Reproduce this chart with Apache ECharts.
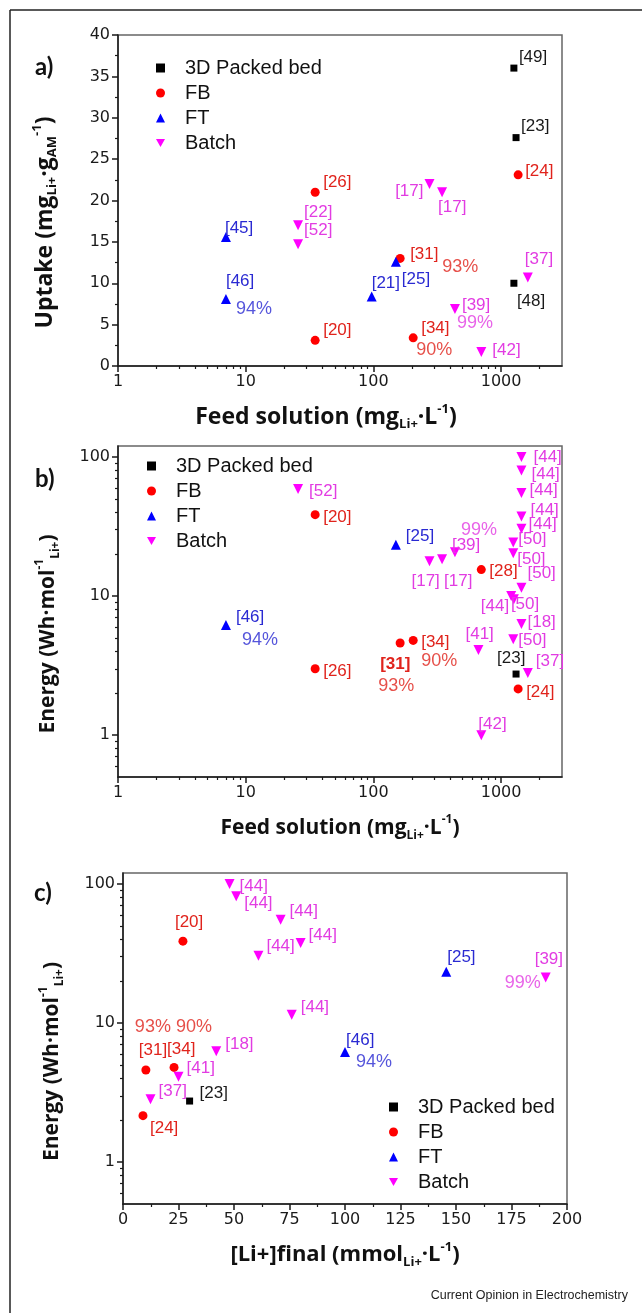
<!DOCTYPE html>
<html><head><meta charset="utf-8">
<script src="https://cdn.jsdelivr.net/npm/echarts@6/dist/echarts.min.js"></script>
<style>html,body{margin:0;padding:0;background:#fff}#c{width:642px;height:1313px}</style>
</head><body><div id="c"></div>
<script>
// ---------- DATA ----------
const seriesNames = ['3D Packed bed', 'FB', 'FT', 'Batch'];

// Panel a) Uptake vs feed solution
const aBedX = [1260, 1310, 1260];
const aBedY = [36, 27.6, 10];
const aBedRef = ['[49]', '[23]', '[48]'];
const aFbX = [35, 1360, 162, 35, 205];
const aFbY = [21, 23.1, 13, 3.1, 3.4];
const aFbRef = ['[26]', '[24]', '[31]', '[20]', '[34]'];
const aFbNote = ['', '', '93%', '', '90%'];
const aFtX = [7, 7, 97, 150];
const aFtY = [15.6, 8.1, 8.4, 12.6];
const aFtRef = ['[45]', '[46]', '[21]', '[25]'];
const aFtNote = ['', '94%', '', ''];
const aBatchX = [275, 345, 25.7, 25.7, 435, 700, 1620];
const aBatchY = [22, 21, 17, 14.7, 6.9, 1.7, 10.7];
const aBatchRef = ['[17]', '[17]', '[22]', '[52]', '[39]', '[42]', '[37]'];
const aBatchNote = ['', '', '', '', '99%', '', ''];

// Panel b) Energy vs feed solution
const bBedX = [1310];
const bBedY = [2.75];
const bBedRef = ['[23]'];
const bFbX = [35, 35, 162, 205, 700, 1360];
const bFbY = [38.5, 3.0, 4.6, 4.8, 15.5, 2.15];
const bFbRef = ['[20]', '[26]', '[31]', '[34]', '[28]', '[24]'];
const bFbNote = ['', '', '93%', '90%', '', ''];
const bFtX = [150, 7];
const bFtY = [23.4, 6.2];
const bFtRef = ['[25]', '[46]'];
const bFtNote = ['', '94%'];
const bBatchX = [25.7, 275, 345, 435, 665, 700, 1620, 1444, 1444, 1444, 1444, 1444, 1245, 1245, 1444, 1200, 1260, 1444, 1245];
const bBatchY = [59, 17.8, 18.4, 20.7, 4.1, 1.0, 2.8, 100, 80, 55, 37.4, 30.5, 24.3, 20.3, 11.5, 10, 9.5, 6.3, 4.9];
const bBatchRef = ['[52]', '[17]', '[17]', '[39]', '[41]', '[42]', '[37]', '[44]', '[44]', '[44]', '[44]', '[44]', '[50]', '[50]', '[50]', '[44]', '[50]', '[18]', '[50]'];
const bBatchNote = ['', '', '', '99%', '', '', '', '', '', '', '', '', '', '', '', '', '', '', ''];

// Panel c) Energy vs final Li+ concentration
const cBedX = [30];
const cBedY = [2.75];
const cBedRef = ['[23]'];
const cFbX = [27, 10.3, 23, 9];
const cFbY = [38.8, 4.6, 4.8, 2.16];
const cFbRef = ['[20]', '[31]', '[34]', '[24]'];
const cFbNote = ['', '93%', '90%', ''];
const cFtX = [145.6, 100];
const cFtY = [23.4, 6.2];
const cFtRef = ['[25]', '[46]'];
const cFtNote = ['', '94%'];
const cBatchX = [48, 51, 71, 80, 61, 76, 42, 25, 12.4, 190.4];
const cBatchY = [100, 81.5, 55.3, 37.6, 30.5, 11.5, 6.27, 4.12, 2.83, 21.3];
const cBatchRef = ['[44]', '[44]', '[44]', '[44]', '[44]', '[44]', '[18]', '[41]', '[37]', '[39]'];
const cBatchNote = ['', '', '', '', '', '', '', '', '', '99%'];

// Tick values
const logMajorX = [1, 10, 100, 1000];
const logMinorX = [2,3,4,5,6,7,8,9,20,30,40,50,60,70,80,90,200,300,400,500,600,700,800,900,2000];
const logMajorY = [1, 10, 100];
const logMinorY = [0.6,0.7,0.8,0.9,2,3,4,5,6,7,8,9,20,30,40,50,60,70,80,90];

// ---------- LABEL LAYOUT (pixel offsets from marker centre) ----------
const aBedLab = [[5,-11],[5,-11],[3,18]];
const aFbLab = [[8,-10],[7,-4],[10,-4],[8,-10],[8,-10]];
const aFbNoteLab = [null,null,[42,9],null,[3,12]];
const aFtLab = [[-1,-9],[0,-18],[0,-13],[6,18]];
const aFtNoteLab = [null,[10,10],null,null];
const aBatchLab = [[-6,7,'right'],[-4,15],[6,-13],[6,-14],[7,-4],[11,-2],[-3,-18]];
const aBatchNoteLab = [null,null,null,null,[2,14],null,null];

const bBedLab = [[-19,-16]];
const bFbLab = [[8,3],[8,3],[-20,21],[8,2],[8,2],[8,3]];
const bFbNoteLab = [null,null,[-22,43],[8,21],null,null];
const bFtLab = [[10,-8],[10,-8]];
const bFtNoteLab = [null,[16,15]];
const bBatchLab = [[11,2],[-18,20],[2,22],[-3,-7],[-13,-16],[-3,-11],[8,-12],[12,0],[10,4],[8,-3],[9,-6],[7,-4],[5,-3],[4,6],[6,-14],[-2,10,'right'],[-3,5],[6,-2],[5,1]];
const bBatchNoteLab = [null,null,null,[6,-22],null,null,null,null,null,null,null,null,null,null,null,null,null,null,null];

const cBedLab = [[10,-8]];
const cFbLab = [[-8,-19],[-7,-20],[-7,-18],[7,13]];
const cFbNoteLab = [null,[-11,-43],[2,-40],null];
const cFtLab = [[1,-14],[1,-12]];
const cFtNoteLab = [null,[11,10]];
const cBatchLab = [[10,2],[8,7],[9,-8],[8,-8],[8,-9],[9,-7],[9,-7],[8,-8],[8,-8],[-11,-18]];
const cBatchNoteLab = [null,null,null,null,null,null,null,null,null,[-5,6,'right']];

// ---------- STYLE ----------
const markerColor = {'3D Packed bed':'#000000', 'FB':'#ff0000', 'FT':'#0000ff', 'Batch':'#ff00ff'};
const textColor = {'3D Packed bed':'#1a1a1a', 'FB':'#e0231c', 'FT':'#2a2ad2', 'Batch':'#e23ce2'};
const markerSymbol = {'3D Packed bed':'rect', 'FB':'circle', 'FT':'triangle', 'Batch':'path://M0,0L10,0L5,9Z'};
const markerSize = {'3D Packed bed':7, 'FB':9, 'FT':10, 'Batch':10};
const LABEL_FONT = 'Liberation Sans';
const TICK_FONT = 'DejaVu Sans';
const TITLE_FONT = 'Open Sans';

function pointData(xs, ys, refs, labs, bold) {
  return xs.map((x, i) => {
    const l = labs[i];
    const d = {value: [x, ys[i]], label: {show: true, formatter: refs[i], offset: [l[0], l[1]], align: l[2] || 'left'}};
    if (bold && bold[i]) d.label.fontWeight = 'bold';
    return d;
  });
}
function mainSeries(name, xi, yi, xs, ys, refs, labs, bold) {
  return {
    type: 'scatter', name: name, xAxisIndex: xi, yAxisIndex: yi,
    symbol: markerSymbol[name], symbolSize: markerSize[name],
    itemStyle: {color: markerColor[name], opacity: 1},
    label: {show: true, position: 'inside', verticalAlign: 'middle', color: textColor[name], fontSize: 17, fontFamily: LABEL_FONT},
    emphasis: {disabled: true},
    data: pointData(xs, ys, refs, labs, bold), z: 3
  };
}
function noteSeries(name, xi, yi, xs, ys, notes, labs) {
  const data = [];
  xs.forEach((x, i) => {
    if (!notes[i]) return;
    const l = labs[i];
    data.push({value: [x, ys[i]], label: {show: true, formatter: notes[i], offset: [l[0], l[1]], align: l[2] || 'left'}});
  });
  return {
    type: 'scatter', xAxisIndex: xi, yAxisIndex: yi, symbol: 'circle', symbolSize: 1,
    itemStyle: {color: 'rgba(0,0,0,0)'}, silent: true,
    label: {show: true, position: 'inside', verticalAlign: 'middle', color: textColor[name], fontSize: 18, fontFamily: LABEL_FONT},
    emphasis: {disabled: true}, data: data, z: 4
  };
}

const axisLineStyle = {show: true, lineStyle: {color: '#1a1a1a', width: 1.5}};
const tickLabelStyle = {fontFamily: TICK_FONT, fontSize: 16, color: '#1a1a1a', margin: 8};
function richName(size) {
  const sub = Math.round(size * 0.58);
  return {
    m: {fontFamily: TITLE_FONT, fontWeight: 'bold', fontSize: size, color: '#111', lineHeight: 28},
    s: {fontFamily: TITLE_FONT, fontWeight: 'bold', fontSize: sub, color: '#111', lineHeight: 12, verticalAlign: 'bottom'},
    u: {fontFamily: TITLE_FONT, fontWeight: 'bold', fontSize: sub, color: '#111', lineHeight: 14, verticalAlign: 'top'}
  };
}
function fmtInt(v) { return String(Math.round(v)); }

function logMainX(grid, name, pad, size) {
  return {type: 'log', logBase: 10, gridIndex: grid, min: 1, max: 3000, position: 'bottom',
    axisLine: axisLineStyle, splitLine: {show: false},
    axisTick: {show: true, length: 6, inside: false, customValues: logMajorX, lineStyle: {color: '#1a1a1a', width: 1.5}},
    axisLabel: {show: true, customValues: logMajorX, formatter: fmtInt, ...tickLabelStyle},
    name: name, nameLocation: 'middle', nameGap: 37,
    nameTextStyle: {rich: richName(size), padding: pad}};
}
function logMinorX2(grid) {
  return {type: 'log', logBase: 10, gridIndex: grid, min: 1, max: 3000, position: 'bottom',
    axisLine: {show: false}, splitLine: {show: false},
    axisTick: {show: true, length: 3, customValues: logMinorX, lineStyle: {color: '#1a1a1a', width: 1.2}},
    axisLabel: {show: false}};
}
function logMainY(grid, name, gap, pad) {
  return {type: 'log', logBase: 10, gridIndex: grid, min: 0.5, max: 120, position: 'left',
    axisLine: axisLineStyle, splitLine: {show: false},
    axisTick: {show: true, length: 6, customValues: logMajorY, lineStyle: {color: '#1a1a1a', width: 1.5}},
    axisLabel: {show: true, customValues: logMajorY, formatter: fmtInt, ...tickLabelStyle},
    name: name, nameLocation: 'middle', nameGap: gap, nameRotate: 90,
    nameTextStyle: {rich: richName(21), padding: pad}};
}
function logMinorY2(grid) {
  return {type: 'log', logBase: 10, gridIndex: grid, min: 0.5, max: 120, position: 'left',
    axisLine: {show: false}, splitLine: {show: false},
    axisTick: {show: true, length: 3, customValues: logMinorY, lineStyle: {color: '#1a1a1a', width: 1.2}},
    axisLabel: {show: false}};
}

const feedName = '{m|Feed solution (mg}{s|Li+}{m|·L}{u|-1}{m|)}';
const uptakeName = '{m|Uptake (mg}{s|Li+}{m|·g}{s|AM}{u|-1}{m|)}';
const energyName = '{m|Energy (Wh·mol}{u|-1}{s|Li+}{m|)}';
const finalName = '{m|[Li+]final (mmol}{s|Li+}{m|·L}{u|-1}{m|)}';

const grids = [
  {left: 118, top: 35, width: 444, height: 331},
  {left: 118, top: 446, width: 444, height: 331},
  {left: 123, top: 873, width: 444, height: 331}
].map(g => Object.assign(g, {show: true, borderColor: '#666', borderWidth: 1.5, backgroundColor: 'transparent', outerBoundsMode: 'none', containLabel: false}));

const xAxes = [
  logMainX(0, feedName, [0, 28, 0, 0], 23),
  logMinorX2(0),
  logMainX(1, feedName, [0, 0, 0, 0], 21),
  logMinorX2(1),
  {type: 'value', gridIndex: 2, min: 0, max: 200, interval: 25, position: 'bottom',
    axisLine: axisLineStyle, splitLine: {show: false},
    axisTick: {show: true, length: 6, lineStyle: {color: '#1a1a1a', width: 1.5}},
    minorTick: {show: true, splitNumber: 2, length: 3, lineStyle: {color: '#1a1a1a', width: 1.2}},
    axisLabel: {show: true, ...tickLabelStyle},
    name: finalName, nameLocation: 'middle', nameGap: 37,
    nameTextStyle: {rich: richName(22)}}
];
const yAxes = [
  {type: 'value', gridIndex: 0, min: 0, max: 40, interval: 5, position: 'left',
    axisLine: axisLineStyle, splitLine: {show: false},
    axisTick: {show: true, length: 6, lineStyle: {color: '#1a1a1a', width: 1.5}},
    minorTick: {show: true, splitNumber: 2, length: 3, lineStyle: {color: '#1a1a1a', width: 1.2}},
    axisLabel: {show: true, ...tickLabelStyle},
    name: uptakeName, nameLocation: 'middle', nameGap: 59, nameRotate: 90,
    nameTextStyle: {rich: richName(23), padding: [0, 44, 0, 0]}},
  logMainY(1, energyName, 56, [0, 45, 0, 0]),
  logMinorY2(1),
  logMainY(2, energyName, 57, [0, 46, 0, 0]),
  logMinorY2(2)
];

const series = [
  // a
  mainSeries('3D Packed bed', 0, 0, aBedX, aBedY, aBedRef, aBedLab),
  mainSeries('FB', 0, 0, aFbX, aFbY, aFbRef, aFbLab),
  mainSeries('FT', 0, 0, aFtX, aFtY, aFtRef, aFtLab),
  mainSeries('Batch', 0, 0, aBatchX, aBatchY, aBatchRef, aBatchLab),
  noteSeries('FB', 0, 0, aFbX, aFbY, aFbNote, aFbNoteLab),
  noteSeries('FT', 0, 0, aFtX, aFtY, aFtNote, aFtNoteLab),
  noteSeries('Batch', 0, 0, aBatchX, aBatchY, aBatchNote, aBatchNoteLab),
  // b
  mainSeries('3D Packed bed', 2, 1, bBedX, bBedY, bBedRef, bBedLab),
  mainSeries('FB', 2, 1, bFbX, bFbY, bFbRef, bFbLab, [false, false, true, false, false, false]),
  mainSeries('FT', 2, 1, bFtX, bFtY, bFtRef, bFtLab),
  mainSeries('Batch', 2, 1, bBatchX, bBatchY, bBatchRef, bBatchLab),
  noteSeries('FB', 2, 1, bFbX, bFbY, bFbNote, bFbNoteLab),
  noteSeries('FT', 2, 1, bFtX, bFtY, bFtNote, bFtNoteLab),
  noteSeries('Batch', 2, 1, bBatchX, bBatchY, bBatchNote, bBatchNoteLab),
  // c
  mainSeries('3D Packed bed', 4, 3, cBedX, cBedY, cBedRef, cBedLab),
  mainSeries('FB', 4, 3, cFbX, cFbY, cFbRef, cFbLab),
  mainSeries('FT', 4, 3, cFtX, cFtY, cFtRef, cFtLab),
  mainSeries('Batch', 4, 3, cBatchX, cBatchY, cBatchRef, cBatchLab),
  noteSeries('FB', 4, 3, cFbX, cFbY, cFbNote, cFbNoteLab),
  noteSeries('FT', 4, 3, cFtX, cFtY, cFtNote, cFtNoteLab),
  noteSeries('Batch', 4, 3, cBatchX, cBatchY, cBatchNote, cBatchNoteLab)
];

function legendAt(left, top) {
  return {data: seriesNames, orient: 'vertical', left: left, top: top, itemWidth: 9, itemHeight: 9, itemGap: 5,
    selectedMode: false, inactiveColor: '#000',
    formatter: n => '{t|' + n + '}',
    textStyle: {rich: {t: {fontFamily: LABEL_FONT, fontSize: 20, color: '#111', lineHeight: 20, padding: [0, 0, 0, 15]}}}};
}

const option = {
  animation: false,
  backgroundColor: '#fff',
  grid: grids,
  xAxis: xAxes,
  yAxis: yAxes,
  legend: [legendAt(151, 53), legendAt(142, 451), legendAt(384, 1092)],
  series: series,
  graphic: [
    {type: 'line', shape: {x1: 10, y1: 10, x2: 10, y2: 1313}, style: {stroke: '#222', lineWidth: 1.5}},
    {type: 'line', shape: {x1: 10, y1: 10, x2: 642, y2: 10}, style: {stroke: '#222', lineWidth: 1.5}},
    {type: 'text', left: 35, top: 55, style: {text: 'a)', font: 'bold 24px Lato', fill: '#111'}},
    {type: 'text', left: 35, top: 467, style: {text: 'b)', font: 'bold 24px Lato', fill: '#111'}},
    {type: 'text', left: 34, top: 881, style: {text: 'c)', font: 'bold 24px Lato', fill: '#111'}},
    {type: 'text', right: 14, top: 1289, style: {text: 'Current Opinion in Electrochemistry', font: '12.5px "Liberation Sans"', fill: '#222'}}
  ]
};
const chart = echarts.init(document.getElementById('c'), null, {renderer: 'canvas'});
chart.setOption(option);
</script></body></html>
